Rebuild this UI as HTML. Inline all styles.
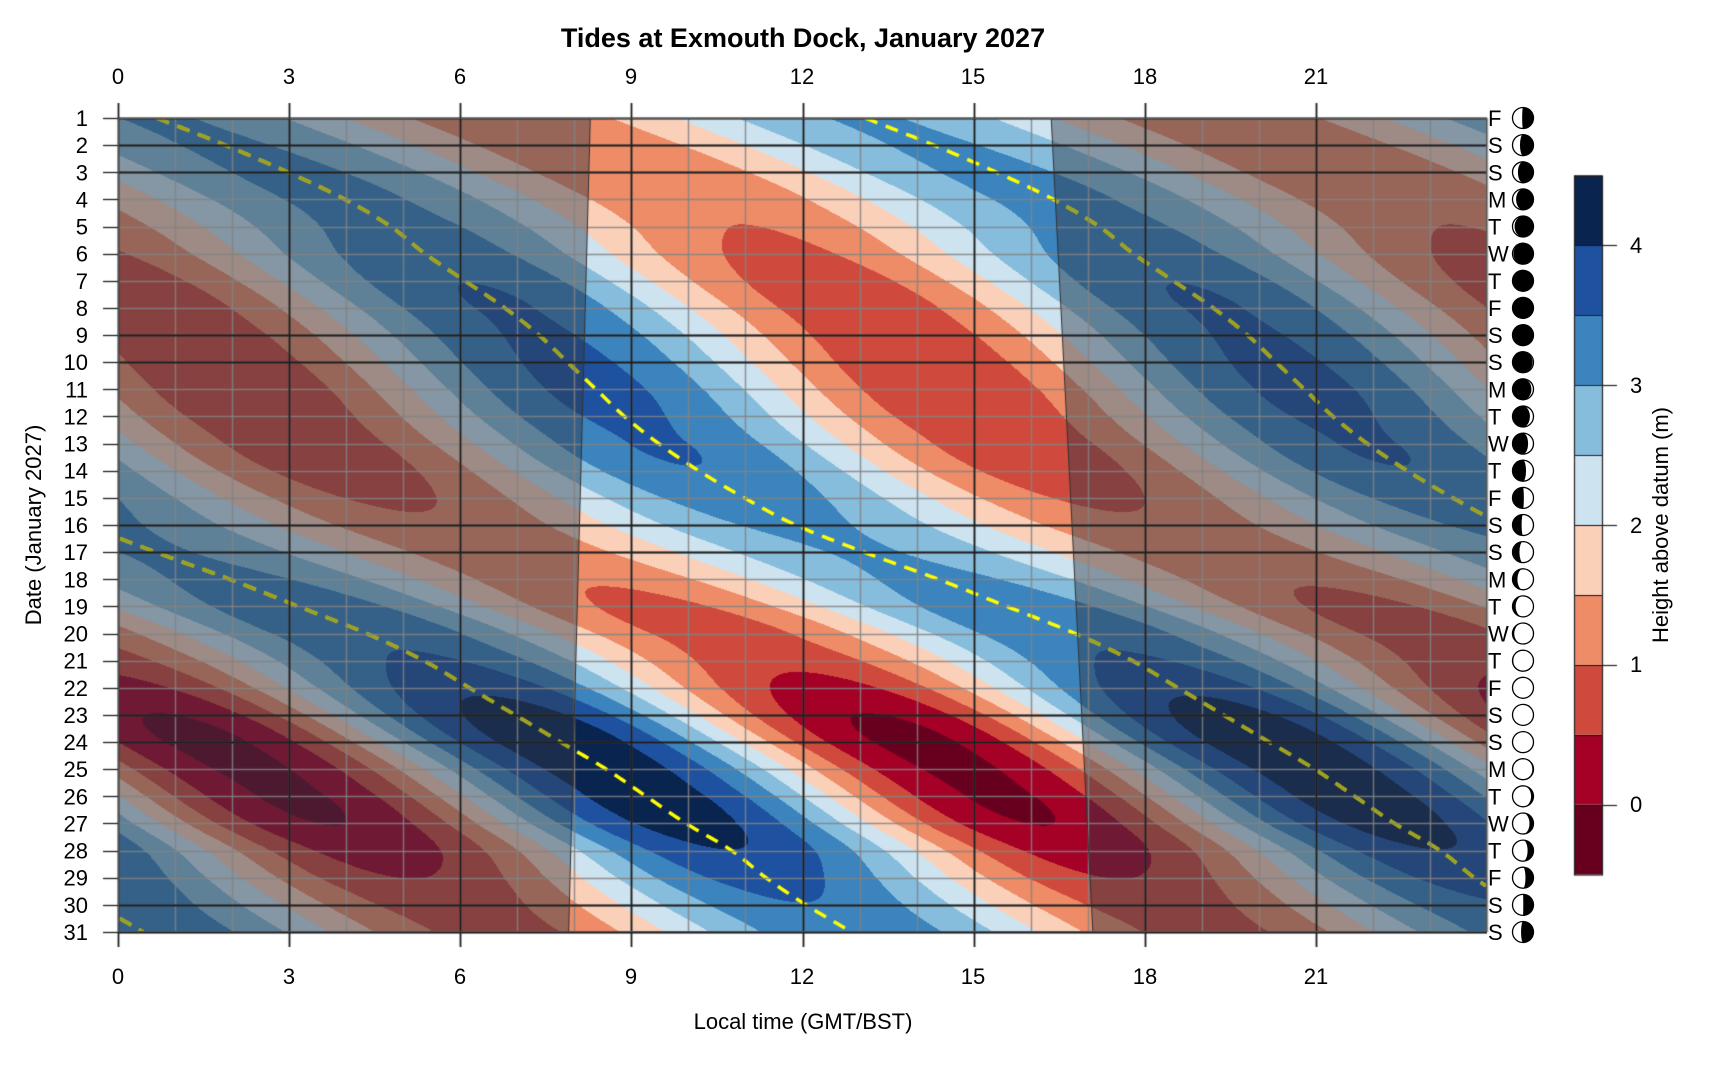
<!DOCTYPE html>
<html><head><meta charset="utf-8">
<style>
html,body{margin:0;padding:0;background:#fff;}
#wrap{position:relative;width:1720px;height:1080px;overflow:hidden;background:#fff;}
canvas,svg{position:absolute;left:0;top:0;}
text{font-family:"Liberation Sans",Arial,sans-serif;fill:#000;}
</style></head>
<body><div id="wrap">
<canvas id="c" width="1720" height="1080"></canvas>
<svg id="s" width="1720" height="1080" xmlns="http://www.w3.org/2000/svg">
<text x="803" y="47" font-size="27" font-weight="bold" text-anchor="middle">Tides at Exmouth Dock, January 2027</text>
<g font-size="22" text-anchor="middle">
<text x="118" y="84">0</text><text x="289" y="84">3</text><text x="460" y="84">6</text><text x="631" y="84">9</text><text x="802" y="84">12</text><text x="973" y="84">15</text><text x="1145" y="84">18</text><text x="1316" y="84">21</text>
<text x="118" y="984">0</text><text x="289" y="984">3</text><text x="460" y="984">6</text><text x="631" y="984">9</text><text x="802" y="984">12</text><text x="973" y="984">15</text><text x="1145" y="984">18</text><text x="1316" y="984">21</text>
</g>
<text x="803" y="1029" font-size="22" text-anchor="middle">Local time (GMT/BST)</text>
<text transform="translate(41,525) rotate(-90)" font-size="22" text-anchor="middle">Date (January 2027)</text>
<text transform="translate(1668,525) rotate(-90)" font-size="22" text-anchor="middle">Height above datum (m)</text>
<g id="ylab" font-size="22" text-anchor="end"></g>
<g id="moon"></g>
<g font-size="22">
<text x="1630" y="253">4</text><text x="1630" y="393">3</text><text x="1630" y="533">2</text><text x="1630" y="672">1</text><text x="1630" y="812">0</text>
</g>
</svg>
</div>
<script>
(function(){
var X0=118,X1=1487,Y0=118,Y1=932;
var PH=(X1-X0)/24, PD=(Y1-Y0)/30;
var cols=[[103,0,31],[165,0,38],[207,74,60],[238,140,104],[251,208,185],[205,227,240],[135,189,220],[60,132,190],[30,82,160],[10,36,80]];
var phi=[13.1,14.3,15.4,16.4,17.2,17.8,18.5,19.2,19.8,20.3,20.8,21.3,21.9,22.6,23.4,24.3,25.5,26.8,28.0,29.2,30.2,31.0,31.8,32.6,33.4,34.1,34.8,35.6,36.2,36.9,37.7];
var amp=[[1,0.95],[4,1.05],[8,1.45],[11,1.55],[13,1.45],[17,0.95],[20,1.35],[24,2.25],[26,2.2],[31,1.3]];
function P(i){if(i<0)return 2*phi[0]-phi[1];if(i>30)return 2*phi[30]-phi[29];return phi[i];}
function interp(d){var i=Math.floor(d)-1;if(i<0)i=0;if(i>29)i=29;var t=d-1-i;
 var p0=P(i-1),p1=P(i),p2=P(i+1),p3=P(i+2);
 return 0.5*((2*p1)+(-p0+p2)*t+(2*p0-5*p1+4*p2-p3)*t*t+(-p0+3*p1-3*p2+p3)*t*t*t);}
function A(d){for(var i=0;i<amp.length-1;i++){if(d<=amp[i+1][0]){var f=(d-amp[i][0])/(amp[i+1][0]-amp[i][0]);f=(1-Math.cos(Math.PI*f))/2;return amp[i][1]*(1-f)+amp[i+1][1]*f;}}return amp[amp.length-1][1];}
function sr(d){return 8.28+(7.9-8.28)*(d-1)/30;}
function ss(d){return 16.36+(17.09-16.36)*(d-1)/30;}
var c=document.getElementById('c').getContext('2d');
var W=X1-X0,H=Y1-Y0;
var img=c.createImageData(W,H);var p=img.data;
var oa=0.45,og=[45,55,70];
for(var y=0;y<H;y++){var d=1+(y+0.5)/PD;var ph=interp(d),a=A(d),s1=sr(d),s2=ss(d);
 for(var x=0;x<W;x++){var t=(x+0.5)/PH;
  var h=2.1+a*Math.cos(2*Math.PI*(t-ph)/12.42);
  var k=Math.floor((h+0.5)/0.5);if(k<0)k=0;if(k>9)k=9;
  var col=cols[k];var r=col[0],g=col[1],b=col[2];
  if(t<s1||t>s2){r=r*(1-oa)+og[0]*oa;g=g*(1-oa)+og[1]*oa;b=b*(1-oa)+og[2]*oa;}
  var i=(y*W+x)*4;p[i]=r;p[i+1]=g;p[i+2]=b;p[i+3]=255;}}
c.putImageData(img,X0,Y0);
function drawLines(color){
 c.setLineDash([13,9]);c.lineWidth=3.5;c.strokeStyle=color;
 for(var k=0;k<=3;k++){c.beginPath();var st=false;
  for(var d=1;d<=31.001;d+=0.05){var t=interp(d)-12.42*k;
   if(t>=0&&t<=24){var X=X0+t*PH,Y=Y0+(d-1)*PD;if(!st){c.moveTo(X,Y);st=true;}else c.lineTo(X,Y);}
   else{if(st){c.stroke();c.beginPath();st=false;}}}
  if(st)c.stroke();}
}
c.save();c.beginPath();c.rect(X0,Y0,W,H);c.clip();drawLines('#ffff00');c.restore();
c.save();c.beginPath();
c.moveTo(X0,Y0);c.lineTo(X0+sr(1)*PH,Y0);c.lineTo(X0+sr(31)*PH,Y1);c.lineTo(X0,Y1);c.closePath();
c.moveTo(X0+ss(1)*PH,Y0);c.lineTo(X1,Y0);c.lineTo(X1,Y1);c.lineTo(X0+ss(31)*PH,Y1);c.closePath();
c.clip();drawLines('rgb(160,160,32)');c.restore();
c.setLineDash([]);
c.strokeStyle='rgba(130,130,130,0.85)';c.lineWidth=1.5;
for(var hh=0;hh<=24;hh++){var X=Math.round(X0+hh*PH)+0.5;c.beginPath();c.moveTo(X,Y0);c.lineTo(X,Y1);c.stroke();}
for(var d=1;d<=31;d++){var Y=Math.round(Y0+(d-1)*PD)+0.5;c.beginPath();c.moveTo(X0,Y);c.lineTo(X1,Y);c.stroke();}
c.strokeStyle='#1e1e1e';c.lineWidth=1.8;
for(var hh=0;hh<=21;hh+=3){var X=Math.round(X0+hh*PH)+0.5;c.beginPath();c.moveTo(X,Y0-15);c.lineTo(X,Y1+15);c.stroke();}
var blk=[1,2,3,9,10,16,17,23,24,30,31];
for(var i=0;i<blk.length;i++){var Y=Math.round(Y0+(blk[i]-1)*PD)+0.5;c.beginPath();c.moveTo(X0,Y);c.lineTo(X1,Y);c.stroke();}
c.lineWidth=1.3;
for(var d=1;d<=31;d++){var Y=Math.round(Y0+(d-1)*PD)+0.5;c.beginPath();c.moveTo(X0-15,Y);c.lineTo(X0,Y);c.stroke();}
c.strokeStyle='#333';c.lineWidth=1;
c.beginPath();c.moveTo(X0+sr(1)*PH,Y0);c.lineTo(X0+sr(31)*PH,Y1);c.stroke();
c.beginPath();c.moveTo(X0+ss(1)*PH,Y0);c.lineTo(X0+ss(31)*PH,Y1);c.stroke();
c.strokeStyle='#555';c.lineWidth=1;c.strokeRect(X0+0.5,Y0+0.5,W-1,H-1);
var CT=175.5,CU=139.8,CX=1574,CW=28;
for(var k=0;k<10;k++){var v0=-0.5+k*0.5;var yb=CT+(4.5-v0)*CU,yt=yb-0.5*CU;
 c.fillStyle='rgb('+cols[k].join(',')+')';c.fillRect(CX,yt,CW,yb-yt);
 c.strokeStyle='#111';c.lineWidth=1;c.beginPath();c.moveTo(CX,Math.round(yt)+0.5);c.lineTo(CX+CW,Math.round(yt)+0.5);c.stroke();}
c.strokeStyle='#222';c.lineWidth=1.2;c.strokeRect(CX+0.5,CT+0.5,CW,5*CU);
for(var v=0;v<=4;v++){var Y=Math.round(CT+(4.5-v)*CU)+0.5;c.beginPath();c.moveTo(CX+CW,Y);c.lineTo(CX+CW+15,Y);c.stroke();}
var ns='http://www.w3.org/2000/svg';
var yl=document.getElementById('ylab'),mg=document.getElementById('moon');
var days='FSSMTWTFSSMTWTFSSMTWTFSSMTWTFSS';
for(var d=1;d<=31;d++){var Y=Y0+(d-1)*PD;
 var t=document.createElementNS(ns,'text');t.setAttribute('x',88);t.setAttribute('y',(Y+8).toFixed(1));t.textContent=d;yl.appendChild(t);
 var l=document.createElementNS(ns,'text');l.setAttribute('x',1488);l.setAttribute('y',(Y+8).toFixed(1));l.setAttribute('font-size','22');l.textContent=days[d-1];mg.appendChild(l);
 var cx=1523,cy=Y,r=10.5;
 var ci=document.createElementNS(ns,'circle');ci.setAttribute('cx',cx);ci.setAttribute('cy',cy.toFixed(1));ci.setAttribute('r',r);ci.setAttribute('fill','#fff');ci.setAttribute('stroke','#000');ci.setAttribute('stroke-width','1.3');mg.appendChild(ci);
 var b=(1+Math.cos(2*Math.PI*(d-8)/29.5))/2;
 var right=(d<8||d>22.75);
 if(b>0.02){var rx=Math.abs(2*b-1)*r;var pth;
  var top=cx+','+(cy-r).toFixed(1),bot=cx+','+(cy+r).toFixed(1);
  if(right){pth='M'+top+' A'+r+' '+r+' 0 0 1 '+bot+' A'+rx.toFixed(2)+' '+r+' 0 0 '+(b>0.5?1:0)+' '+top+'Z';}
  else{pth='M'+top+' A'+r+' '+r+' 0 0 0 '+bot+' A'+rx.toFixed(2)+' '+r+' 0 0 '+(b>0.5?0:1)+' '+top+'Z';}
  var pa=document.createElementNS(ns,'path');pa.setAttribute('d',pth);pa.setAttribute('fill','#000');mg.appendChild(pa);}
}
})();
</script>
</body></html>
